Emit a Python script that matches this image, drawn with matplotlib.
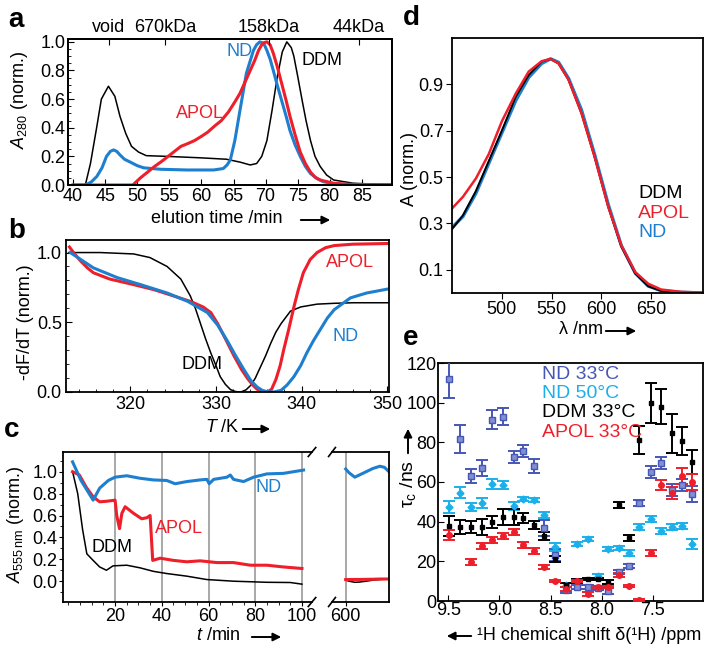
import numpy as np
import matplotlib
matplotlib.use('Agg')
import matplotlib.pyplot as plt
from matplotlib.ticker import MultipleLocator

plt.rcParams['font.family'] = ['Liberation Sans', 'DejaVu Sans']
plt.rcParams['font.size'] = 13
plt.rcParams['axes.linewidth'] = 1.3
plt.rcParams['mathtext.fontset'] = 'custom'
plt.rcParams['mathtext.rm'] = 'Liberation Sans'
plt.rcParams['mathtext.it'] = 'Liberation Sans:italic'

BLUE = '#1f7fcf'
RED = '#ee1f2a'
ND33 = '#4656b4'
ND50 = '#1cb0ea'
FS = 13

# --- a: size exclusion chromatography ---
sec_t_ddm = [40, 41.9, 42.7, 43.7, 44.4, 45.5, 46.5, 47.3, 48.2, 49.1, 50.2, 51.4, 54.6, 59.8, 63.9,
             66.0, 67.6, 68.6, 69.4, 70.2, 71.0, 71.8, 72.6, 73.3, 74.0, 74.4, 75.0, 75.7, 76.3, 77.0,
             77.7, 78.5, 79.5, 80.6, 83.7, 87.8, 90]
sec_ddm = [0, 0, 0.15, 0.41, 0.6, 0.69, 0.62, 0.48, 0.36, 0.27, 0.23, 0.205, 0.2, 0.19, 0.18,
           0.16, 0.14, 0.15, 0.2, 0.31, 0.52, 0.75, 0.93, 1.0, 0.96, 0.9, 0.76, 0.59, 0.45, 0.31,
           0.2, 0.13, 0.07, 0.035, 0.012, 0.005, 0.005]
sec_t_nd = [40, 41.9, 42.8, 43.7, 44.5, 45.2, 45.8, 46.3, 46.8, 47.3, 48.0, 48.9, 50.0, 51.0, 53.6,
            57.7, 61.9, 63.4, 64.0, 64.5, 65.2, 66.0, 67.0, 68.1, 68.6, 69.1, 69.7, 70.2, 70.7, 71.2,
            71.8, 72.5, 73.2, 73.8, 74.6, 75.4, 76.2, 77.0, 78.0, 79.0, 80.5, 82.1, 90]
sec_nd = [0, 0, 0.02, 0.06, 0.12, 0.2, 0.235, 0.245, 0.235, 0.21, 0.18, 0.16, 0.135, 0.12, 0.11,
          0.105, 0.105, 0.115, 0.14, 0.175, 0.31, 0.52, 0.78, 0.94, 0.98, 1.0, 0.99, 0.94, 0.88, 0.8,
          0.7, 0.59, 0.48, 0.38, 0.28, 0.2, 0.13, 0.08, 0.045, 0.023, 0.01, 0.005, 0.0]
sec_t_apol = [40, 49.3, 50.5, 51.6, 52.7, 53.8, 54.8, 55.8, 56.8, 57.9, 58.9, 60.0, 61.0, 62.0, 63.1,
              64.2, 65.2, 66.0, 66.7, 67.5, 68.3, 68.9, 69.4, 69.8, 70.2, 70.7, 71.2, 71.8, 72.5, 73.2,
              73.8, 74.6, 75.4, 76.2, 77.0, 77.7, 78.5, 80.6, 83, 90]
sec_apol = [0, 0, 0.05, 0.09, 0.13, 0.165, 0.2, 0.235, 0.27, 0.29, 0.31, 0.34, 0.37, 0.41, 0.45,
            0.51, 0.58, 0.64, 0.71, 0.79, 0.87, 0.94, 0.98, 0.995, 1.0, 0.98, 0.92, 0.83, 0.71, 0.59,
            0.48, 0.35, 0.23, 0.15, 0.09, 0.055, 0.035, 0.012, 0.004, 0]
marker_pos = [45.6, 54.3, 70.5, 84.5]
marker_lab = ['void', '670kDa', '158kDa', '44kDa']

# --- b: thermal unfolding ---
tm_T_ddm = [312.8, 316.5, 320.4, 322.3, 324.3, 325.9, 327.0, 327.6, 328.2, 328.8, 329.4, 330.0, 330.5,
            331.1, 331.7, 332.3, 332.9, 333.5, 334.1, 334.6, 335.2, 335.8, 336.4, 337.0, 337.6, 338.7,
            339.9, 341.8, 343.8, 346, 350.2]
tm_ddm = [1.0, 1.0, 0.99, 0.964, 0.9, 0.81, 0.69, 0.6, 0.49, 0.38, 0.28, 0.19, 0.11,
          0.055, 0.017, 0.003, 0.0, 0.015, 0.05, 0.1, 0.18, 0.26, 0.35, 0.43, 0.49, 0.58,
          0.61, 0.63, 0.636, 0.64, 0.64]
tm_T_apol = [312.9, 313.5, 314.2, 315.0, 315.7, 317.6, 320.4, 322.7, 325.0, 327.0, 328.5, 329.4, 330.2,
             331.2, 332.1, 333.0, 333.7, 334.3, 334.8, 335.4, 336.0, 336.5, 337.0, 337.5, 337.9, 338.5,
             339.1, 339.6, 340.2, 341.0, 341.8, 342.8, 343.8, 346.0, 350.2]
tm_apol = [1.04, 0.99, 0.94, 0.89, 0.855, 0.81, 0.77, 0.735, 0.69, 0.65, 0.61, 0.57, 0.49,
           0.37, 0.26, 0.16, 0.096, 0.05, 0.02, 0.004, 0.0, 0.02, 0.09, 0.19, 0.3, 0.45,
           0.61, 0.73, 0.855, 0.95, 1.0, 1.035, 1.05, 1.06, 1.065]
tm_T_nd = [313.0, 315.7, 318.5, 321.2, 324.3, 326.7, 329.0, 330.2, 331.3, 332.3, 333.3, 334.1, 334.8,
           335.4, 336.0, 336.8, 337.6, 338.3, 339.1, 339.9, 340.6, 341.4, 342.2, 343.0, 343.8, 345.7,
           347.6, 350.2]
tm_nd = [1.0, 0.89, 0.82, 0.77, 0.71, 0.65, 0.57, 0.48, 0.37, 0.26, 0.157, 0.08, 0.036,
         0.012, 0.002, 0.0, 0.012, 0.05, 0.11, 0.19, 0.28, 0.37, 0.45, 0.53, 0.59, 0.675,
         0.71, 0.74]

# --- c: stability over time ---
st_t_nd = [1.8, 5.4, 8.3, 10.6, 13.4, 17.1, 20.0, 25.0, 30.7, 36.4, 42.1, 45.7, 50.7, 56.4, 59.3,
           60.3, 62.2, 67.9, 69.3, 70.7, 75.0, 79.3, 85.0, 92.1, 96.4, 100.7]
st_nd = [1.09, 0.92, 0.82, 0.74, 0.85, 0.92, 0.95, 0.963, 0.94, 0.925, 0.92, 0.89, 0.91, 0.925, 0.93,
         0.89, 0.93, 0.95, 0.97, 0.93, 0.91, 0.95, 0.98, 0.985, 1.0, 1.015]
st_t_apol = [1.8, 4.7, 7.6, 10.6, 13.4, 16.3, 20.0, 20.7, 21.9, 22.9, 24.3, 27.9, 31.4, 33.6, 35.0,
             36.1, 39.3, 45.0, 50.7, 56.4, 63.6, 70.7, 77.9, 85.0, 92.1, 100]
st_apol = [1.0, 0.97, 0.86, 0.77, 0.725, 0.73, 0.74, 0.6, 0.48, 0.62, 0.68, 0.62, 0.57, 0.58, 0.6,
           0.19, 0.21, 0.19, 0.177, 0.186, 0.17, 0.17, 0.146, 0.146, 0.13, 0.116]
st_t_ddm = [1.8, 4.0, 6.1, 7.9, 10.6, 13.4, 16.3, 19.1, 25.0, 30.7, 36.4, 42.1, 50.7, 59.3, 70.7,
            85.0, 95.0, 100]
st_ddm = [1.0, 0.8, 0.47, 0.25, 0.19, 0.13, 0.1, 0.14, 0.146, 0.122, 0.09, 0.07, 0.046, 0.015, 0.0,
          -0.01, -0.012, -0.027]
st_t_late = [600, 603, 608, 612, 618, 624, 630, 634, 638]
st_nd_late = [1.025, 0.99, 0.95, 0.97, 1.0, 1.03, 1.05, 1.04, 1.0]
st_apol_late = [0.015, 0.015, 0.016, 0.016, 0.017, 0.018, 0.02, 0.02, 0.02]
st_ddm_late = [0.01, 0.0, -0.01, -0.008, 0.0, 0.01, 0.015, 0.018, 0.02]

# --- d: absorption spectra ---
wl = [449, 461, 474, 487, 500, 514, 527, 540, 549, 557, 567, 580, 593, 607, 620, 634, 647, 660, 680, 702]
abs_ddm = [0.27, 0.335, 0.44, 0.57, 0.70, 0.847, 0.94, 0.998, 1.01, 0.99, 0.92, 0.775, 0.59, 0.37,
           0.2, 0.084, 0.029, 0.009, 0.003, 0.0]
abs_nd = [0.278, 0.33, 0.43, 0.56, 0.69, 0.83, 0.93, 0.99, 1.01, 0.995, 0.926, 0.79, 0.6, 0.38,
          0.205, 0.086, 0.03, 0.01, 0.003, 0.0]
abs_apol = [0.36, 0.415, 0.494, 0.6, 0.74, 0.86, 0.955, 1.0, 1.01, 0.99, 0.92, 0.775, 0.59, 0.37,
            0.205, 0.09, 0.04, 0.015, 0.005, 0.002]

# --- e: rotational correlation times ---
ppm = [9.49, 9.384, 9.281, 9.174, 9.071, 8.965, 8.861, 8.765, 8.661, 8.565, 8.458, 8.345,
       8.242, 8.135, 8.039, 7.942, 7.829, 7.732, 7.635, 7.523, 7.416, 7.313, 7.216, 7.119]
tau_nd33 = [112, 81.5, 63, 67, 91.5, 93, 72.5, 75.5, 68, 37, 23, 5.5,
            7, 7, 6.5, 5, 14.5, 17.5, 49.5, 65, 69.5, 56, 58.5, 54]
err_nd33 = [9.5, 7, 3.5, 4, 5, 4.5, 3, 3, 3.5, 4, 3, 1.5, 1, 1, 1, 1.5, 1, 1, 1.5, 3, 3, 3, 3, 4]
tau_nd50 = [47.5, 54.7, 47.5, 49.5, 59, 58.5, 47.8, 51.5, 50.8, 43.3, 27.2, 8,
            28.8, 31.5, 12.6, 26, 26.5, 24.3, 37.5, 41.3, 35.2, 37.5, 37.6, 28.6]
err_nd50 = [3, 3, 2, 2.5, 2.5, 2, 2, 1, 1, 1.5, 2, 1, 1, 1, 1, 1, 1, 1.5, 1.5, 1.5, 1.5, 1.5, 1.5, 2.5]
tau_ddm = [38, 37.5, 37.5, 37.5, 40, 42.5, 42.5, 42, 38.3, 33, 21, 8,
           10, 11, 11, 9.5, 48.3, 32, 81.3, 100, 98, 84.5, 80.5, 70]
err_ddm = [5, 3.5, 3, 4, 3, 4, 4, 2.5, 2, 2, 1.5, 1, 1, 0.5, 0.5, 1, 1.5, 1.5, 7, 10, 9, 10, 7, 6]
tau_apol = [33.3, np.nan, 19.8, 27.7, 30.8, 32.9, 35.0, 28.2, 25.4, 17.0, 10.1, 6,
            10, 3.5, 7, 7, 13, 7.7, 0.5, 24.4, 58.5, 54.4, 63, 60.2]
err_apol = [2.5, np.nan, 1.5, 1.5, 1.5, 1.5, 1.5, 1.5, 1.5, 1, 0.5, 1, 0.5, 1, 0.5, 0.5, 1, 0.5, 0.5,
            1.5, 2.5, 3, 4, 4]

W, H = 714, 652
fig = plt.figure(figsize=(W / 100, H / 100), dpi=100)


def box(x0, y0, x1, y1):
    # image pixel box -> axes rect
    return [x0 / W, 1 - y1 / H, (x1 - x0) / W, (y1 - y0) / H]


def ftext(x, y, s, **kw):
    fig.text(x / W, 1 - y / H, s, **kw)


def farrow(x0, y0, x1, y1):
    fig.add_artist(matplotlib.patches.FancyArrowPatch(
        (x0 / W, 1 - y0 / H), (x1 / W, 1 - y1 / H), transform=fig.transFigure,
        arrowstyle='-|>', mutation_scale=12, lw=1.4, color='k'))


# panel a
ax = fig.add_axes(box(68, 39, 392, 185))
ax.plot(sec_t_ddm, sec_ddm, color='k', lw=1.1)
ax.plot(sec_t_nd, sec_nd, color=BLUE, lw=2.2)
ax.plot(sec_t_apol, sec_apol, color=RED, lw=2.2)
ax.set_xlim(39.2, 89.7)
ax.set_ylim(0, 1.02)
ax.set_xticks(range(40, 90, 5))
ax.set_yticks([0, 0.2, 0.4, 0.6, 0.8, 1.0])
ax.set_yticklabels(['0.0', '0.2', '0.4', '0.6', '0.8', '1.0'])
ax.yaxis.set_minor_locator(MultipleLocator(0.05))
ax.tick_params(direction='in', length=4, pad=2, labelsize=FS)
ax.tick_params(which='minor', direction='in', length=2)
ax.text(66.0, 0.93, 'ND', color=BLUE, fontsize=FS, ha='center', va='center')
ax.text(75.6, 0.87, 'DDM', color='k', fontsize=FS, va='center')
ax.text(56.0, 0.5, 'APOL', color=RED, fontsize=FS, va='center')
top = ax.twiny()
top.set_xlim(ax.get_xlim())
top.set_xticks(marker_pos)
top.set_xticklabels(marker_lab)
top.tick_params(direction='in', length=4, pad=2, labelsize=FS)

# panel b
ax = fig.add_axes(box(66, 240, 389, 392))
ax.plot(tm_T_ddm, tm_ddm, color='k', lw=1.1)
ax.plot(tm_T_apol, tm_apol, color=RED, lw=2.2)
ax.plot(tm_T_nd, tm_nd, color=BLUE, lw=2.2)
ax.set_xlim(312.5, 350.2)
ax.set_ylim(0, 1.09)
ax.set_xticks([320, 330, 340, 350])
ax.set_yticks([0, 0.5, 1.0])
ax.set_yticklabels(['0.0', '0.5', '1.0'])
ax.xaxis.set_minor_locator(MultipleLocator(2))
ax.yaxis.set_minor_locator(MultipleLocator(0.1))
ax.tick_params(direction='in', length=4, pad=3, labelsize=FS)
ax.tick_params(which='minor', direction='in', length=2)
ax.text(342.8, 0.93, 'APOL', color=RED, fontsize=FS, va='center')
ax.text(343.6, 0.4, 'ND', color=BLUE, fontsize=FS, va='center')
ax.text(326.0, 0.2, 'DDM', color='k', fontsize=FS, va='center')

# panel c (broken axis)
ax = fig.add_axes(box(63, 452, 312, 602))
for g in [20, 40, 60, 80, 100]:
    ax.axvline(g, color='#999999', lw=1.2, zorder=0)
ax.plot(st_t_ddm, st_ddm, color='k', lw=1.1)
ax.plot(st_t_apol, st_apol, color=RED, lw=2.2)
ax.plot(st_t_nd, st_nd, color=BLUE, lw=2.2)
ax.set_xlim(-2.3, 104.3)
ax.set_ylim(-0.19, 1.18)
ax.set_xticks([20, 40, 60, 80, 100])
ax.set_yticks([0, 0.2, 0.4, 0.6, 0.8, 1.0])
ax.set_yticklabels(['0.0', '0.2', '0.4', '0.6', '0.8', '1.0'])
ax.xaxis.set_minor_locator(MultipleLocator(5))
ax.yaxis.set_minor_locator(MultipleLocator(0.1))
ax.tick_params(direction='out', length=3, pad=1, labelsize=FS)
ax.tick_params(which='minor', direction='out', length=2)
ax.spines['right'].set_visible(False)
ax.text(80.0, 0.86, 'ND', color=BLUE, fontsize=FS, va='center')
ax.text(37.0, 0.48, 'APOL', color=RED, fontsize=FS, va='center')
ax.text(9.8, 0.31, 'DDM', color='k', fontsize=FS, va='center')
for yy in (0, 1):
    ax.plot([1 - 0.015, 1 + 0.015], [yy - 0.03, yy + 0.03], transform=ax.transAxes,
            color='k', lw=1.2, clip_on=False)

ax2 = fig.add_axes(box(332, 452, 389, 602))
ax2.axvline(600, color='#999999', lw=1.2, zorder=0)
ax2.plot(st_t_late, st_ddm_late, color='k', lw=1.1)
ax2.plot(st_t_late, st_apol_late, color=RED, lw=2.2)
ax2.plot(st_t_late, st_nd_late, color=BLUE, lw=2.2)
ax2.set_xlim(588, 638)
ax2.set_ylim(-0.19, 1.18)
ax2.set_xticks([600])
ax2.set_yticks([])
ax2.tick_params(direction='out', length=3, pad=1, labelsize=FS)
ax2.spines['left'].set_visible(False)
for yy in (0, 1):
    ax2.plot([-0.06, 0.06], [yy - 0.03, yy + 0.03], transform=ax2.transAxes,
             color='k', lw=1.2, clip_on=False)

# panel d
ax = fig.add_axes(box(452, 38, 703, 293))
ax.plot(wl, abs_nd, color=BLUE, lw=2.4)
ax.plot(wl, abs_ddm, color='k', lw=1.4)
ax.plot(wl, abs_apol, color=RED, lw=1.8)
ax.set_xlim(450, 702)
ax.set_ylim(0, 1.1)
ax.set_xticks([500, 550, 600, 650])
ax.set_yticks([0.1, 0.3, 0.5, 0.7, 0.9])
ax.tick_params(direction='out', length=4, pad=2, labelsize=FS)
ax.text(637, 0.43, 'DDM', color='k', fontsize=FS + 1, va='center')
ax.text(637, 0.345, 'APOL', color=RED, fontsize=FS + 1, va='center')
ax.text(637, 0.26, 'ND', color=BLUE, fontsize=FS + 1, va='center')

# panel e
ax = fig.add_axes(box(438, 363, 703, 601))
eb = dict(capsize=4, elinewidth=1.4, capthick=1.4, lw=0, zorder=3)
ax.errorbar(ppm, tau_nd33, yerr=err_nd33, color=ND33, marker='s', ms=5, mfc='#8290d2', mec=ND33, **eb)
ax.errorbar(ppm, tau_nd50, yerr=err_nd50, color=ND50, marker='D', ms=3.5, **eb)
ax.errorbar(ppm, tau_ddm, yerr=err_ddm, color='k', marker='s', ms=3, **eb)
ax.errorbar(ppm, tau_apol, yerr=err_apol, color=RED, marker='o', ms=4, **eb)
ax.set_xlim(9.6, 7.01)
ax.set_ylim(0, 120)
ax.set_xticks([9.5, 9.0, 8.5, 8.0, 7.5])
ax.set_xticklabels(['9.5', '9.0', '8.5', '8.0', '7.5'])
ax.set_yticks(range(0, 121, 20))
ax.tick_params(direction='in', length=4, pad=1, labelsize=FS)
for i, (s, c) in enumerate([('ND 33°C', ND33), ('ND 50°C', ND50), ('DDM 33°C', 'k'), ('APOL 33°C', RED)]):
    ax.text(0.392, 0.95 - i * 0.08, s, color=c, fontsize=14, va='center', transform=ax.transAxes)

# axis labels and arrows
ftext(20, 100, '$A_{280}$ (norm.)', rotation=90, ha='center', va='center', fontsize=FS)
ftext(217, 219, 'elution time /min', ha='center', va='center', fontsize=FS)
farrow(298, 220, 333, 220)
ftext(26, 322, '-dF/dT (norm.)', rotation=90, ha='center', va='center', fontsize=FS)
ftext(240, 428, '$T$ /K', ha='right', va='center', fontsize=FS)
farrow(240, 429, 273, 429)
ftext(16, 524, '$A_{555\\,\\mathrm{nm}}$ (norm.)', rotation=90, ha='center', va='center', fontsize=FS)
ftext(241, 635, '$t$ /min', ha='right', va='center', fontsize=FS)
farrow(249, 637, 284, 637)
ftext(410, 169, 'A (norm.)', rotation=90, ha='center', va='center', fontsize=FS)
ftext(603, 330, 'λ /nm', ha='right', va='center', fontsize=FS)
farrow(603, 331, 639, 331)
ftext(408, 460, 'τ$_{\\rm c}$ /ns', rotation=90, ha='center', va='top', fontsize=FS + 1)
farrow(408, 456, 408, 426)
farrow(474, 636, 444, 636)
ftext(477, 635, '¹H chemical shift δ(¹H) /ppm', ha='left', va='center', fontsize=FS)

# panel letters
for s, x, y in [('a', 16, 20), ('b', 17, 231), ('c', 12, 430), ('d', 411, 18), ('e', 411, 338)]:
    ftext(x, y, s, ha='center', va='center', fontsize=20, fontweight='bold')

fig.savefig('out.png', dpi=100)
